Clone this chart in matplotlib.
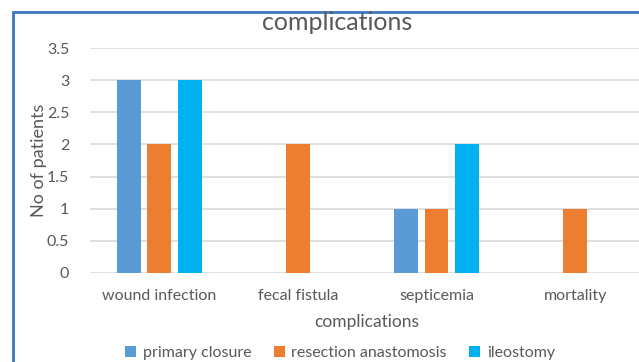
import matplotlib
matplotlib.use("Agg")
import matplotlib.pyplot as plt
import numpy as np
from matplotlib.patches import Rectangle, Patch

categories = ["wound infection", "fecal fistula", "septicemia", "mortality"]
primary_closure = [3, 0, 1, 0]
resection_anastomosis = [2, 2, 1, 1]
ileostomy = [3, 0, 2, 0]
series_names = ["primary closure", "resection anastomosis", "ileostomy"]
colors = ["#5B9BD5", "#ED7D31", "#00B0F0"]
yticks = [0, 0.5, 1, 1.5, 2, 2.5, 3, 3.5]

plt.rcParams["font.family"] = ["Lato", "DejaVu Sans"]
text_color = "#595959"

W, H = 639, 362
fig = plt.figure(figsize=(W / 100, H / 100), dpi=100)
ax = fig.add_axes([90 / W, 1 - 272.7 / H, 554.4 / W, (272.7 - 48.3) / H])

x = np.arange(len(categories))
bw = 0.173
step = 0.221
for i, (vals, name, c) in enumerate(zip([primary_closure, resection_anastomosis, ileostomy], series_names, colors)):
    v = np.array(vals, dtype=float)
    mask = v > 0
    ax.bar(x[mask] + (i - 1) * step, v[mask], width=bw, color=c, zorder=3)

ax.set_xlim(-0.5, len(categories) - 0.5)
ax.set_ylim(0, 3.5)
ax.set_yticks(yticks)
ax.set_yticklabels([f"{t:g}" for t in yticks])
ax.set_xticks(x)
ax.set_xticklabels(categories)
ax.tick_params(axis="both", length=0, colors=text_color, labelsize=11.5)
ax.tick_params(axis="y", pad=15)
ax.tick_params(axis="x", pad=12)
ax.grid(axis="y", color="#D9D9D9", linewidth=1.2, zorder=0)
for s in ax.spines.values():
    s.set_visible(False)

ax.set_xlabel("complications", fontsize=12.5, color=text_color, labelpad=8)
ax.set_ylabel("No of patients", fontsize=13, color=text_color, labelpad=0)

fig.text(337 / W, 1 - 22 / H, "complications", ha="center", va="center",
         fontsize=18, color=text_color)

handles = [Patch(facecolor=c, edgecolor="none") for c in colors]
fig.legend(handles, series_names, loc="center", bbox_to_anchor=(340 / W, 1 - 353 / H),
           ncol=3, frameon=False, fontsize=11.5, labelcolor=text_color,
           handlelength=0.7, handleheight=0.7, handletextpad=0.4, columnspacing=1.4)

# chart frame
fig.add_artist(Rectangle((13 / W, -0.1), 1.2, 1 - 12.5 / H + 0.1, transform=fig.transFigure,
                         fill=False, edgecolor="#3A78C0", linewidth=2, clip_on=False))

fig.savefig("out.png", dpi=100)
